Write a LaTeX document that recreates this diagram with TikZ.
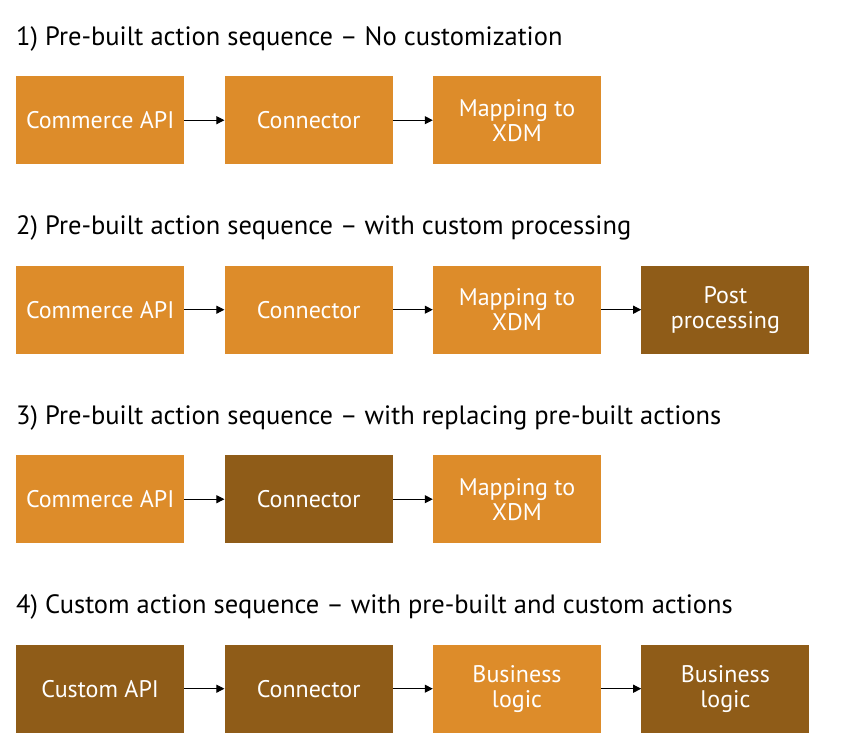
\documentclass[tikz,border=0pt]{standalone}
\usepackage{fontspec}
\setmainfont{PT Sans}
\usetikzlibrary{positioning}
\usetikzlibrary{arrows.meta}
\definecolor{lightor}{RGB}{221,140,42}
\definecolor{darkbr}{RGB}{143,92,24}

\tikzset{
  stage/.style={shape=rectangle,minimum width=168pt,minimum height=88pt,inner sep=0pt,
    text=white,align=center,font=\fontsize{24}{25}\selectfont},
  lightstage/.style={stage,fill=lightor},
  darkstage/.style={stage,fill=darkbr},
  heading/.style={anchor=base west,inner sep=0pt,font=\fontsize{26.5}{28}\selectfont},
  flow/.style={-{Triangle[length=8pt, width=8pt]},line width=1pt}
}

\begin{document}
\begin{tikzpicture}[x=1pt,y=-1pt]
    \useasboundingbox (0,0) rectangle (846,755);

    % 1)
    \node[heading] (T1) at (16,45) {1) Pre-built action sequence -- No customization};
    \node[lightstage,anchor=north west] (A1) at (16,76) {Commerce API};
    \node[lightstage,right=40pt of A1] (B1) {Connector};
    \node[lightstage,right=40pt of B1] (C1) {Mapping to\\XDM};
    \path [flow] (A1) edge (B1);
    \path [flow] (B1) edge (C1);

    % 2)
    \node[heading] (T2) at (16,234.5) {2) Pre-built action sequence -- with custom processing};
    \node[lightstage,anchor=north west] (A2) at (16,265.5) {Commerce API};
    \node[lightstage,right=40pt of A2] (B2) {Connector};
    \node[lightstage,right=40pt of B2] (C2) {Mapping to\\XDM};
    \node[darkstage,right=40pt of C2] (D2) {Post\\processing};
    \path [flow] (A2) edge (B2);
    \path [flow] (B2) edge (C2);
    \path [flow] (C2) edge (D2);

    % 3)
    \node[heading] (T3) at (16,424) {3) Pre-built action sequence -- with replacing pre-built actions};
    \node[lightstage,anchor=north west] (A3) at (16,455) {Commerce API};
    \node[darkstage,right=40pt of A3] (B3) {Connector};
    \node[lightstage,right=40pt of B3] (C3) {Mapping to\\XDM};
    \path [flow] (A3) edge (B3);
    \path [flow] (B3) edge (C3);

    % 4)
    \node[heading] (T4) at (16,613.5) {4) Custom action sequence -- with pre-built and custom actions};
    \node[darkstage,anchor=north west] (A4) at (16,644.5) {Custom API};
    \node[darkstage,right=40pt of A4] (B4) {Connector};
    \node[lightstage,right=40pt of B4] (C4) {Business\\logic};
    \node[darkstage,right=40pt of C4] (D4) {Business\\logic};
    \path [flow] (A4) edge (B4);
    \path [flow] (B4) edge (C4);
    \path [flow] (C4) edge (D4);
\end{tikzpicture}
\end{document}
